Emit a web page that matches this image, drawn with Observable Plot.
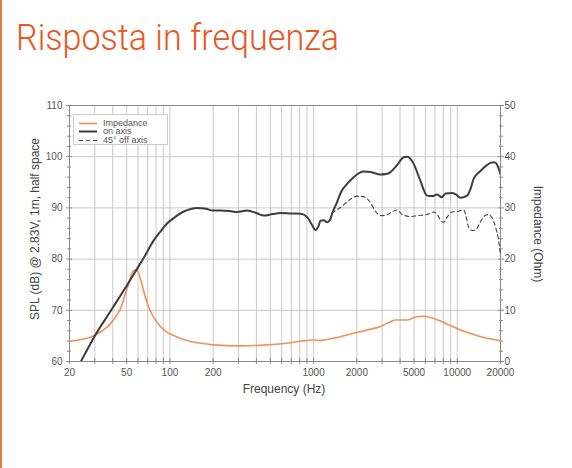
<!DOCTYPE html>
<html>
<head>
<meta charset="utf-8">
<script src="https://cdn.jsdelivr.net/npm/d3@7"></script>
<script src="https://cdn.jsdelivr.net/npm/@observablehq/plot@0.6"></script>
<style>
  html, body { margin: 0; padding: 0; background: #fff; }
  #wrap { position: relative; width: 572px; height: 468px; overflow: hidden; }
  #bar { position: absolute; left: 0; top: 0; width: 2px; height: 468px; background: #dd7a48; }
  #title { position: absolute; left: 16px; top: 19px; font-family: Roboto, "Open Sans", sans-serif; font-weight: 300;
           font-size: 37px; color: #e9571f; white-space: nowrap; transform-origin: 0 0; line-height: 1; }
  .lab { position: absolute; font-family: "Liberation Sans", Arial, sans-serif; font-size: 12px; color: #444; white-space: nowrap; }
  #legend { position: absolute; left: 73px; top: 114px; width: 95px; height: 31px; border: 1px solid #ccc; background: #fff;
            font-family: "Liberation Sans", Arial, sans-serif; font-size: 9px; color: #555; box-sizing: border-box; }
  #legend .row { position: absolute; left: 4px; height: 9px; line-height: 9px; }
  #legend svg { position: absolute; left: 0; top: 0; }
  #legend span { position: absolute; left: 25px; top: 0; }
</style>
</head>
<body>
<div id="wrap">
  <div id="chart"></div>
  <div id="bar"></div>
  <div id="title">Risposta in frequenza</div>
  <div id="legend"></div>
  <div class="lab" id="ylab">SPL (dB) @ 2.83V, 1m, half space</div>
  <div class="lab" id="y2lab">Impedance (Ohm)</div>
  <div class="lab" id="xlab">Frequency (Hz)</div>
</div>
<script>
// ---- data ----
const freqOn = [24, 30, 40, 50, 57, 65, 77, 86, 95, 105, 112, 125, 140, 155, 175, 197, 224, 260, 293, 345, 400, 449, 520, 588, 700, 810, 903, 960, 1031, 1080, 1116, 1180, 1242, 1300, 1346, 1450, 1560, 1712, 1900, 2100, 2233, 2500, 2920, 3200, 3428, 3800, 4242, 4500, 4978, 5500, 6166, 6700, 7240, 7800, 8300, 9210, 9700, 10520, 11700, 12300, 13020, 14500, 16000, 17020, 18000, 18800, 19500, 20000];
const splOn = [60, 65, 70.5, 74.8, 77.4, 80, 83.6, 85.4, 86.9, 87.9, 88.5, 89.3, 89.8, 90.0, 89.9, 89.5, 89.5, 89.4, 89.2, 89.5, 89.0, 88.5, 88.8, 89.0, 88.9, 88.85, 88.2, 87.0, 85.7, 86.4, 87.5, 87.6, 87.2, 87.6, 88.9, 91.0, 93.2, 94.7, 96.0, 96.9, 97.1, 97.0, 96.5, 96.6, 97.0, 98.3, 99.9, 100.0, 98.6, 95.5, 92.4, 92.3, 92.6, 92.1, 92.8, 92.9, 92.7, 92.0, 92.4, 93.5, 95.7, 97.2, 98.3, 98.8, 98.9, 98.6, 97.5, 96.6];

const freqOff = [1300, 1346, 1450, 1560, 1712, 1850, 2010, 2233, 2450, 2700, 2920, 3200, 3500, 3815, 4100, 4722, 5300, 6166, 6870, 7300, 7700, 8050, 8500, 9210, 10000, 11090, 11500, 12020, 12700, 13400, 14500, 15600, 16560, 17500, 18500, 19300, 20000];
const splOff = [87.6, 88.9, 89.6, 90.2, 91.2, 91.9, 92.3, 92.2, 91.3, 89.3, 88.5, 88.6, 89.2, 89.6, 88.8, 88.3, 88.5, 88.7, 89.2, 88.6, 87.5, 87.2, 88.2, 89.2, 89.3, 89.6, 88.4, 86.2, 85.6, 85.7, 87.3, 88.5, 88.7, 88.0, 86.2, 84.0, 80.8];

const freqZ = [20, 25, 28, 30.3, 35, 38.6, 42, 45.3, 48, 51.6, 54, 57.2, 59, 60.8, 64, 67.4, 72, 76.9, 85, 95.6, 110, 131, 160, 202, 310, 474, 690, 810, 903, 1000, 1090, 1400, 1904, 2400, 2920, 3400, 3712, 4100, 4480, 5000, 5843, 6500, 7640, 9000, 11700, 14000, 16140, 20000];
const impZ = [3.9, 4.4, 4.75, 5.2, 6.3, 7.4, 8.8, 10.3, 12.5, 15.2, 17.0, 17.9, 17.8, 17.1, 15.0, 12.6, 10.3, 8.65, 7.0, 5.7, 4.9, 4.1, 3.6, 3.25, 3.05, 3.25, 3.65, 3.97, 4.1, 4.2, 4.1, 4.6, 5.5, 6.2, 6.84, 7.7, 8.1, 8.1, 8.1, 8.6, 8.85, 8.6, 7.9, 7.0, 5.7, 5.0, 4.55, 4.1];

// ---- ticks ----
const xTickLabels = [20, 50, 100, 200, 1000, 2000, 5000, 10000, 20000];
const xGridTicks = [20, 30, 40, 50, 60, 70, 80, 90, 100, 200, 300, 400, 500, 600, 700, 800, 900, 1000, 2000, 3000, 4000, 5000, 6000, 7000, 8000, 9000, 10000, 20000];
const yMajor = [60, 70, 80, 90, 100, 110];
const yMinor = [62, 64, 66, 68, 72, 74, 76, 78, 82, 84, 86, 88, 92, 94, 96, 98, 102, 104, 106, 108];
const impOffset = 60; // impedance 0..50 Ohm shares the 60..110 dB range

const on = freqOn.map((f, i) => ({f, v: splOn[i]}));
const off = freqOff.map((f, i) => ({f, v: splOff[i]}));
const imp = freqZ.map((f, i) => ({f, z: impZ[i]}));

const axisStroke = "#8a8a8a";
const chart = Plot.plot({
  width: 572, height: 468,
  marginLeft: 69, marginRight: 72, marginTop: 105, marginBottom: 107,
  x: {type: "log", domain: [20, 20000]},
  y: {domain: [60, 110]},
  style: {fontFamily: "'Liberation Sans', Arial, sans-serif", fontSize: "10px", color: "#555", background: "transparent"},
  marks: [
    Plot.gridX(xGridTicks, {stroke: "#c8c8c8", strokeOpacity: 1, strokeWidth: 1}),
    Plot.gridY(yMajor, {stroke: "#c8c8c8", strokeOpacity: 1, strokeWidth: 1}),
    Plot.frame({stroke: axisStroke}),
    Plot.axisX(xGridTicks, {tickSize: 6, dy: -3, tickFormat: () => "", label: null, stroke: axisStroke}),
    Plot.text(xTickLabels, {x: d => d, frameAnchor: "bottom", dy: 7, lineAnchor: "top", text: d => String(d), fill: "#555"}),
    Plot.axisY(yMajor, {anchor: "left", tickSize: 6, dx: 3, tickFormat: () => "", label: null, stroke: axisStroke}),
    Plot.axisY(yMinor, {anchor: "left", tickSize: 4, dx: 2, tickFormat: () => "", label: null, stroke: axisStroke}),
    Plot.axisY(yMajor, {anchor: "left", tickSize: 0, tickPadding: 7, label: null, fill: "#555"}),
    Plot.axisY(yMajor, {anchor: "right", tickSize: 6, dx: -3, tickFormat: () => "", label: null, stroke: axisStroke}),
    Plot.axisY(yMinor, {anchor: "right", tickSize: 4, dx: -2, tickFormat: () => "", label: null, stroke: axisStroke}),
    Plot.axisY(yMajor, {anchor: "right", tickSize: 0, tickPadding: 4, tickFormat: d => String(d - impOffset), label: null, fill: "#555"}),
    Plot.line(imp, {x: "f", y: d => d.z + impOffset, stroke: "#f0915c", strokeWidth: 1.6, curve: "monotone-x"}),
    Plot.line(off, {x: "f", y: "v", stroke: "#444", strokeWidth: 1.1, strokeDasharray: "4,3", curve: "monotone-x"}),
    Plot.line(on, {x: "f", y: "v", stroke: "#3d3d3d", strokeWidth: 2, curve: "monotone-x", clip: true})
  ]
});
document.getElementById("chart").appendChild(chart);

// legend
const legendItems = [
  {label: "Impedance", stroke: "#f0915c", dash: null, w: 1.6},
  {label: "on axis", stroke: "#3d3d3d", dash: null, w: 2},
  {label: "45° off axis", stroke: "#444", dash: "4,3", w: 1.1}
];
const leg = document.getElementById("legend");
legendItems.forEach((it, i) => {
  const row = document.createElement("div");
  row.className = "row";
  row.style.top = (3.5 + i * 8.7) + "px";
  row.style.width = "88px";
  row.innerHTML = `<svg width="20" height="9"><line x1="1" x2="19" y1="4.5" y2="4.5" stroke="${it.stroke}" stroke-width="${it.w}" ${it.dash ? `stroke-dasharray="${it.dash}"` : ""}/></svg><span>${it.label}</span>`;
  leg.appendChild(row);
});

// title fit
const t = document.getElementById("title");
const tw = t.getBoundingClientRect().width;
t.style.transform = `scaleX(${323 / tw})`;

// axis labels
function place(id, cx, cy, rot) {
  const el = document.getElementById(id);
  const r = el.getBoundingClientRect();
  el.style.left = (cx - r.width / 2) + "px";
  el.style.top = (cy - r.height / 2) + "px";
  if (rot) el.style.transform = `rotate(${rot}deg)`;
}
place("ylab", 35, 229, -90);
place("y2lab", 538, 234, 90);
place("xlab", 284, 389, 0);
</script>
</body>
</html>
